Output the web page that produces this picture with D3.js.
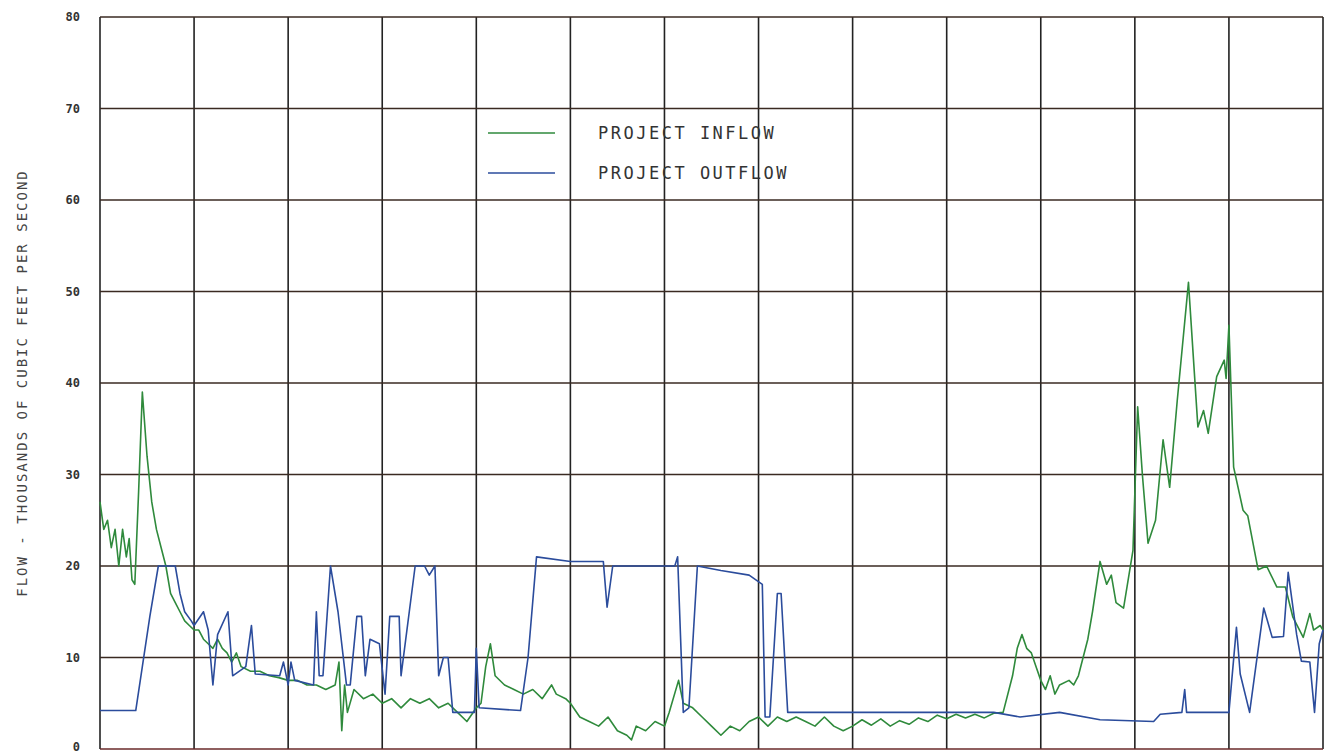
<!DOCTYPE html>
<html lang="en">
<head>
<meta charset="UTF-8" />
<title>Project flow</title>
<style>
  body { margin: 0; background: #fff; }
  text { font-family: "DejaVu Sans Mono", monospace; }
</style>
</head>
<body>
<svg id="chart" width="1333" height="754"></svg>
<script src="https://d3js.org/d3.v7.min.js"></script>
<script>
// x in grid-column units (13 columns), y in thousands of cfs
const inflow = [
  [0,27],[0.04,24],[0.08,25],[0.12,22],[0.16,24],[0.2,20],[0.24,24],[0.28,21],[0.31,23],[0.34,18.5],[0.37,18],
  [0.41,28],[0.45,39],[0.5,32],[0.55,27],[0.6,24],[0.65,22],[0.7,20],[0.75,17],[0.8,16],[0.85,15],[0.9,14],
  [0.95,13.5],[1.0,13],[1.05,13],[1.1,12],[1.15,11.5],[1.2,11],[1.25,12],[1.3,11],[1.35,10.5],[1.4,9.5],
  [1.45,10.5],[1.5,9],[1.6,8.5],[1.7,8.5],[1.8,8],[1.9,7.8],[2.0,7.5],[2.1,7.5],[2.2,7],[2.3,7],[2.4,6.5],
  [2.5,7],[2.54,9.5],[2.57,2],[2.6,7],[2.63,4],[2.7,6.5],[2.8,5.5],[2.9,6],[3.0,5],[3.1,5.5],[3.2,4.5],
  [3.3,5.5],[3.4,5],[3.5,5.5],[3.6,4.5],[3.7,5],[3.8,4],[3.9,3],[4.0,4.5],[4.05,5],[4.1,9],[4.15,11.5],
  [4.2,8],[4.3,7],[4.4,6.5],[4.5,6],[4.6,6.5],[4.7,5.5],[4.8,7],[4.85,6],[4.95,5.5],[5.0,5],[5.1,3.5],
  [5.2,3],[5.3,2.5],[5.4,3.5],[5.5,2],[5.6,1.5],[5.65,1],[5.7,2.5],[5.8,2],[5.9,3],[6.0,2.5],[6.05,4],
  [6.15,7.5],[6.2,5],[6.3,4.5],[6.4,3.5],[6.5,2.5],[6.6,1.5],[6.7,2.5],[6.8,2],[6.9,3],[7.0,3.5],[7.1,2.5],
  [7.2,3.5],[7.3,3],[7.4,3.5],[7.5,3],[7.6,2.5],[7.7,3.5],[7.8,2.5],[7.9,2],[8.0,2.5],[8.1,3.2],[8.2,2.6],
  [8.3,3.3],[8.4,2.5],[8.5,3.1],[8.6,2.7],[8.7,3.4],[8.8,3.0],[8.9,3.7],[9.0,3.3],[9.1,3.8],[9.2,3.4],
  [9.3,3.8],[9.4,3.4],[9.5,3.9],[9.6,4],[9.7,8],[9.75,11],[9.8,12.5],[9.85,11],[9.9,10.5],
  [9.95,9],[10.0,7.5],[10.05,6.5],[10.1,8],[10.15,6],[10.2,7],[10.3,7.5],[10.35,7],[10.4,8],[10.5,12],
  [10.55,15],[10.63,20.5],[10.7,18],[10.75,19],[10.8,16],[10.88,15.4],[10.98,21.7],[11.03,37.4],[11.08,30],
  [11.14,22.5],[11.22,25],[11.3,33.8],[11.37,28.6],[11.45,38],[11.57,51],[11.67,35.2],[11.73,37],[11.78,34.5],
  [11.87,40.7],[11.95,42.5],[11.97,40.5],[12.0,46.3],[12.05,30.8],[12.15,26.1],[12.2,25.5],[12.31,19.6],
  [12.4,20],[12.51,17.7],[12.6,17.7],[12.68,14.4],[12.79,12.2],[12.86,14.8],[12.9,13],[12.97,13.5],[13.0,13]
];
const outflow = [
  [0,4.2],[0.38,4.2],[0.45,9],[0.53,14.5],[0.62,20],[0.8,20],[0.85,17],[0.9,15],[0.97,14],[1.0,13.5],
  [1.1,15],[1.15,13],[1.2,7],[1.25,12.5],[1.36,15],[1.41,8],[1.55,9],[1.61,13.5],[1.65,8.2],[1.91,8],
  [1.95,9.5],[2.0,7],[2.03,9.5],[2.07,7.5],[2.27,7],[2.3,15],[2.33,8],[2.37,8],[2.45,20],[2.53,15],
  [2.62,7],[2.66,7],[2.73,14.5],[2.78,14.5],[2.82,8],[2.87,12],[2.97,11.5],[3.03,6],[3.08,14.5],[3.18,14.5],
  [3.2,8],[3.35,20],[3.45,20],[3.5,19],[3.56,20],[3.6,8],[3.65,10],[3.7,10],[3.75,4],[3.98,4],[4.0,11],
  [4.03,4.5],[4.47,4.2],[4.55,10],[4.64,21],[5.0,20.5],[5.35,20.5],[5.39,15.5],[5.45,20],[5.9,20],[6.11,20],
  [6.14,21],[6.2,4],[6.26,4.5],[6.35,20],[6.6,19.5],[6.9,19],[7.04,18],[7.07,3.5],[7.12,3.5],[7.2,17],
  [7.24,17],[7.31,4],[8.5,4],[9.5,4],[9.78,3.5],[10.2,4],[10.63,3.2],[11.2,3],[11.27,3.8],[11.5,4],[11.53,6.5],
  [11.55,4],[12.0,4],[12.08,13.3],[12.12,8.2],[12.22,4],[12.37,15.4],[12.46,12.2],[12.58,12.3],[12.63,19.3],
  [12.72,12.5],[12.77,9.6],[12.86,9.5],[12.91,4],[12.96,11.5],[13.0,13]
];
const yTicks = [0, 10, 20, 30, 40, 50, 60, 70, 80];
const legendLabels = ["PROJECT INFLOW", "PROJECT OUTFLOW"];
const seriesColors = ["#2f8a3c", "#2b4c9c"];

const svg = d3.select("#chart");

const x = d3.scaleLinear().domain([0, 13]).range([100, 1323]);
const y = d3.scaleLinear().domain([0, 80]).range([749, 17]);

// grid
svg.append("g").selectAll("line").data(d3.range(0, 14)).join("line")
  .attr("x1", d => x(d)).attr("x2", d => x(d))
  .attr("y1", y(80)).attr("y2", y(0))
  .attr("stroke", "#222").attr("stroke-width", 1.6);
svg.append("g").selectAll("line").data(yTicks).join("line")
  .attr("x1", x(0)).attr("x2", x(13))
  .attr("y1", d => y(d)).attr("y2", d => y(d))
  .attr("stroke", d => (d === 0 ? "#6a2a2a" : "#3a2a22")).attr("stroke-width", 1.6);

// y tick labels
svg.append("g").selectAll("text").data(yTicks).join("text")
  .attr("x", 80).attr("y", d => Math.min(y(d) + 4, 751))
  .attr("text-anchor", "end")
  .attr("font-size", 12).attr("font-weight", "bold").attr("fill", "#333")
  .text(d => d);

svg.append("text")
  .attr("transform", `translate(27,${y(40)}) rotate(-90)`)
  .attr("text-anchor", "middle")
  .attr("font-size", 14).attr("letter-spacing", 2).attr("fill", "#444")
  .text("FLOW - THOUSANDS OF CUBIC FEET PER SECOND");

const line = d3.line().x(d => x(d[0])).y(d => y(d[1]));
[inflow, outflow].forEach((s, i) => {
  svg.append("path").datum(s)
    .attr("fill", "none").attr("stroke", seriesColors[i])
    .attr("stroke-width", 1.6).attr("stroke-linejoin", "round")
    .attr("d", line);
});

// legend
legendLabels.forEach((t, i) => {
  const ly = 133 + i * 40;
  svg.append("line").attr("x1", 488).attr("x2", 555).attr("y1", ly).attr("y2", ly)
    .attr("stroke", seriesColors[i]).attr("stroke-width", 1.4);
  svg.append("text").attr("x", 598).attr("y", ly + 6)
    .attr("font-size", 17).attr("letter-spacing", 2.5).attr("fill", "#333")
    .text(t);
});
</script>
</body>
</html>
